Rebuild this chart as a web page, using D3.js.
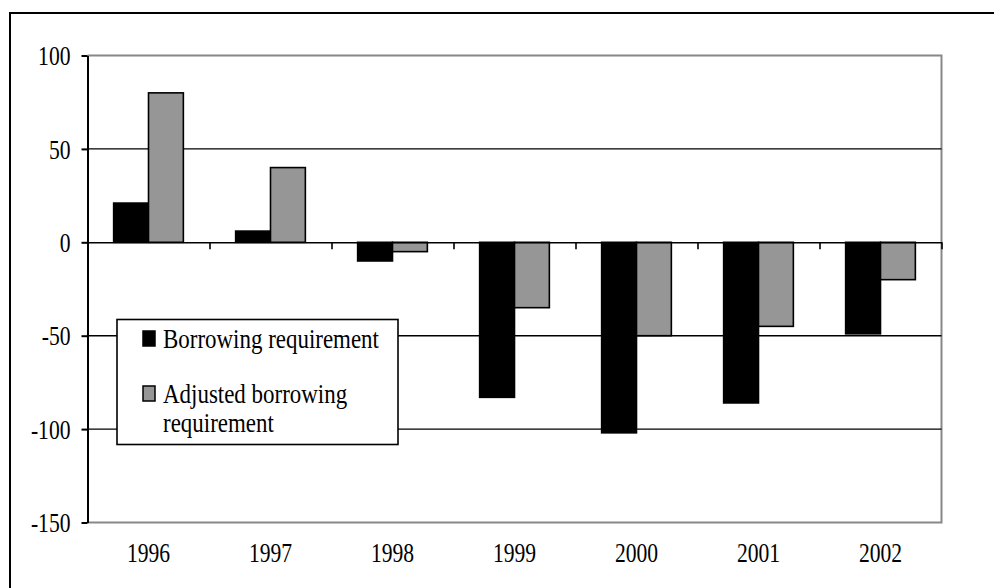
<!DOCTYPE html>
<html>
<head>
<meta charset="utf-8">
<script src="https://cdn.jsdelivr.net/npm/d3@7"></script>
<style>
  html, body { margin: 0; padding: 0; background: #fff; }
  svg { display: block; }
  text { font-family: "Liberation Serif", "Times New Roman", serif; fill: #000; }
</style>
</head>
<body>
<svg id="chart" width="994" height="588"></svg>
<script>
// Public sector borrowing requirement, 1996-2002
const years = ["1996", "1997", "1998", "1999", "2000", "2001", "2002"];
const borrowing = [21, 6, -10, -83, -102, -86, -49];
const adjusted = [80, 40, -5, -35, -50, -45, -20];
const yTicks = [100, 50, 0, -50, -100, -150];
const gridValues = [50, -50, -100];
const seriesNames = ["Borrowing requirement", "Adjusted borrowing requirement"];
const seriesColors = ["#000000", "#969696"];

const svg = d3.select("#chart");
const FONT = 27;          // serif type, narrowed horizontally
const AXIS_SQX = 0.8, LEGEND_SQX = 0.85;

const plot = { left: 87.5, right: 941.5, top: 55.5, bottom: 522.5 };

const x = d3.scaleBand()
  .domain(years)
  .range([plot.left, plot.right])
  .paddingInner(1.5 / 3.5)
  .paddingOuter(0.75 / 3.5);
const xs = d3.scaleBand().domain([0, 1]).range([0, x.bandwidth()]);
const y = d3.scaleLinear().domain([-150, 100]).range([plot.bottom, plot.top]);
const xEdge = d3.scaleLinear().domain([0, years.length]).range([plot.left, plot.right]);

// outer frame (top and left edges)
svg.append("path")
  .attr("d", `M10,588 V13 H994`)
  .attr("fill", "none").attr("stroke", "#000").attr("stroke-width", 2);

// plot area border: top, right, bottom in grey
svg.append("path")
  .attr("d", `M${plot.left},${plot.top} H${plot.right} V${plot.bottom} H${plot.left}`)
  .attr("fill", "none").attr("stroke", "#888").attr("stroke-width", 2);

// horizontal gridlines
svg.append("g").selectAll("line").data(gridValues).join("line")
  .attr("x1", plot.left).attr("x2", plot.right)
  .attr("y1", d => y(d)).attr("y2", d => y(d))
  .attr("stroke", "#000").attr("stroke-width", 1.4);

// bars
const series = [borrowing, adjusted];
series.forEach((vals, si) => {
  svg.append("g").selectAll("rect").data(vals).join("rect")
    .attr("x", (d, i) => x(years[i]) + xs(si))
    .attr("width", xs.bandwidth())
    .attr("y", d => y(Math.max(0, d)))
    .attr("height", d => Math.abs(y(d) - y(0)))
    .attr("fill", seriesColors[si])
    .attr("stroke", "#000").attr("stroke-width", 1.6);
});

// zero line with category separators
const zeroAxis = svg.append("g")
  .attr("transform", `translate(0,${y(0)})`)
  .call(d3.axisBottom(xEdge).tickValues(d3.range(0, years.length + 1)).tickFormat("").tickSize(7).tickSizeOuter(0));
zeroAxis.selectAll("path, line").attr("stroke", "#000").attr("stroke-width", 1.6);

// value axis
const yAxis = svg.append("g")
  .attr("transform", `translate(${plot.left},0)`)
  .call(d3.axisLeft(y).tickValues(yTicks).tickFormat(d => String(d)).tickSize(6).tickSizeOuter(0));
yAxis.selectAll("path, line").attr("stroke", "#000").attr("stroke-width", 2);
yAxis.selectAll("text")
  .attr("x", null).attr("dy", "0.34em")
  .attr("transform", `translate(-17,0) scale(${AXIS_SQX},1)`)
  .style("font-size", FONT + "px")
  .style("font-family", "Liberation Serif, serif")
  .attr("fill", "#000");

// category labels
const xAxis = svg.append("g")
  .attr("transform", `translate(0,${plot.bottom})`)
  .call(d3.axisBottom(x).tickSize(0));
xAxis.select(".domain").remove();
xAxis.selectAll("text")
  .attr("y", null).attr("dy", null)
  .attr("transform", `translate(0,39) scale(${AXIS_SQX},1)`)
  .style("font-size", FONT + "px")
  .style("font-family", "Liberation Serif, serif")
  .attr("fill", "#000");

// legend
const legend = svg.append("g");
legend.append("rect")
  .attr("x", 117).attr("y", 319.5).attr("width", 281).attr("height", 125)
  .attr("fill", "#fff").attr("stroke", "#000").attr("stroke-width", 1.6);

const legendRows = [
  { lines: ["Borrowing requirement"], top: 331 },
  { lines: ["Adjusted borrowing", "requirement"], top: 386 }
];
legendRows.forEach((row, i) => {
  legend.append("rect")
    .attr("x", 143).attr("y", row.top).attr("width", 12).attr("height", 15)
    .attr("fill", seriesColors[i]).attr("stroke", "#000").attr("stroke-width", 1.5);
  row.lines.forEach((ln, j) => {
    legend.append("text")
      .attr("transform", `translate(163,${row.top + 17 + j * 29}) scale(${LEGEND_SQX},1)`)
      .style("font-size", FONT + "px")
      .text(ln);
  });
});
</script>
</body>
</html>
